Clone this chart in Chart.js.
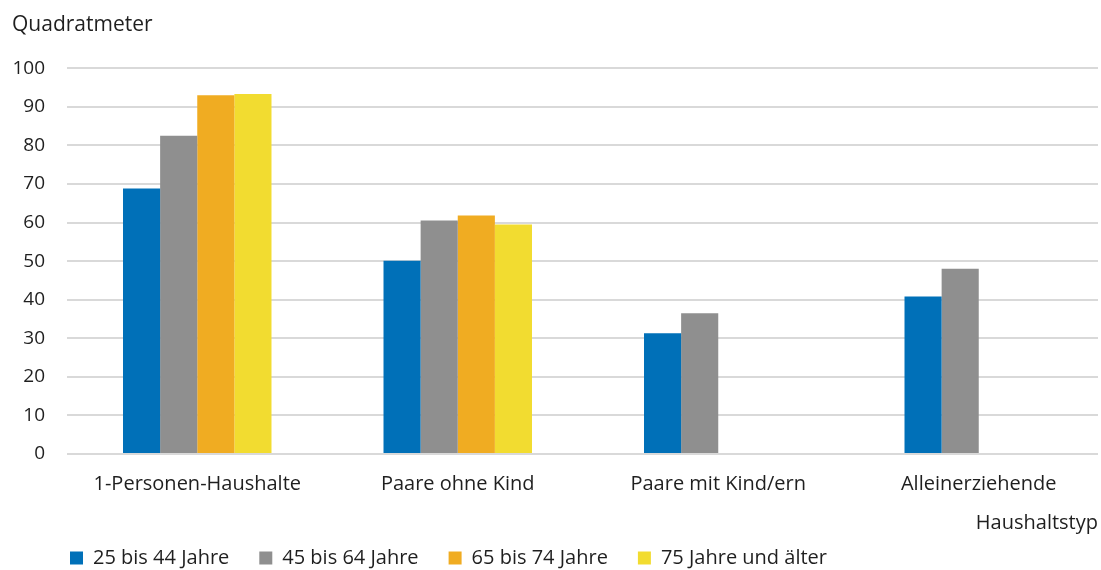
<!DOCTYPE html>
<html lang="de">
<head>
<meta charset="utf-8">
<title>Wohnfläche je Person nach Haushaltstyp</title>
<script src="https://cdn.jsdelivr.net/npm/chart.js@4"></script>
<style>
  html, body { margin: 0; padding: 0; background: #ffffff; }
  #wrap { width: 1101px; height: 570px; }
</style>
</head>
<body>
<div id="wrap"><canvas id="chart" width="1101" height="570"></canvas></div>
<script>
// Haushaltstypen (x-Achse)
const categories = ['1-Personen-Haushalte', 'Paare ohne Kind', 'Paare mit Kind/ern', 'Alleinerziehende'];

// Wohnfläche je Person in Quadratmetern, nach Altersgruppe
const age25to44 = [68.8, 50.1, 31.3, 40.8];
const age45to64 = [82.5, 60.5, 36.5, 48.0];
const age65to74 = [93.0, 61.8, null, null];
const age75plus = [93.3, 59.5, null, null];

const seriesNames = ['25 bis 44 Jahre', '45 bis 64 Jahre', '65 bis 74 Jahre', '75 Jahre und älter'];
const seriesColors = ['#0070b8', '#8f8f8f', '#f0ac22', '#f2dc30'];

// y-Achse
const yMin = 0;
const yMax = 100;
const yStep = 10;

const FONT = '"Open Sans", Lato, "DejaVu Sans", sans-serif';
const TEXT = '#1f1f1f';
const GRID = '#d9d9d9';

const LEGEND_PAD = 30;
const LEGEND_FONT = 20;
// Kategorienraster reicht rechts etwas über den Canvas hinaus
const X_OVERHANG = 11;

const datasets = [age25to44, age45to64, age65to74, age75plus].map((values, i) => ({
  label: seriesNames[i],
  data: values,
  backgroundColor: seriesColors[i],
  borderWidth: 0,
  categoryPercentage: 0.57,
  barPercentage: 1.0
}));

const layoutTweak = {
  id: 'layoutTweak',
  afterInit(chart) {
    const lg = chart.legend;
    if (!lg) return;
    const fit = lg.fit.bind(lg);
    lg.fit = function () { fit(); this.height = 35; };
  },
  afterLayout(chart) {
    // breiteres Kategorienraster, Achsentitel bleibt am Canvasrand
    const x = chart.scales.x;
    const right = x.right;
    x.right = right + X_OVERHANG;
    x.configure();
    x.right = right;

    // Legendenzeile bündig mit der Zeichenfläche
    const lg = chart.legend;
    if (!lg) return;
    const w = lg.right - lg.left;
    lg.left = chart.chartArea.left + 3 - LEGEND_PAD;
    lg.right = lg.left + w;
    lg.top = 558 - LEGEND_PAD - LEGEND_FONT / 2;
    lg.bottom = chart.height;
  }
};

new Chart(document.getElementById('chart'), {
  type: 'bar',
  data: { labels: categories, datasets },
  plugins: [layoutTweak],
  options: {
    responsive: false,
    animation: false,
    layout: { padding: { left: 12, right: 3, top: 0, bottom: 0 } },
    plugins: {
      title: {
        display: true,
        text: 'Quadratmeter',
        align: 'start',
        color: TEXT,
        font: { family: FONT, size: 21, weight: 'normal' },
        padding: { top: 12, bottom: 31 }
      },
      legend: {
        display: true,
        position: 'bottom',
        align: 'start',
        labels: {
          color: TEXT,
          font: { family: FONT, size: LEGEND_FONT },
          boxWidth: 13,
          boxHeight: 13,
          padding: LEGEND_PAD
        }
      },
      tooltip: { enabled: false }
    },
    scales: {
      x: {
        grid: { display: false, drawTicks: false },
        border: { display: false },
        ticks: {
          color: TEXT,
          font: { family: FONT, size: 20 },
          padding: 18,
          maxRotation: 0
        },
        title: {
          display: true,
          text: 'Haushaltstyp',
          align: 'end',
          color: TEXT,
          font: { family: FONT, size: 20 },
          padding: { top: -3, bottom: 0 }
        }
      },
      y: {
        min: yMin,
        max: yMax,
        grid: { color: GRID, lineWidth: 2, drawTicks: false },
        border: { display: false },
        ticks: {
          stepSize: yStep,
          color: TEXT,
          font: { family: FONT, size: 19 },
          padding: 22
        },
        afterFit(scale) { scale.width = 55; }
      }
    }
  }
});
</script>
</body>
</html>
